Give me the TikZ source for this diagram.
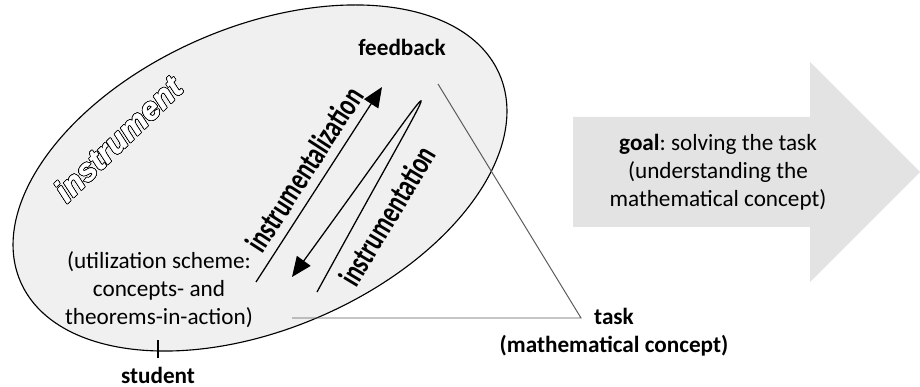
\documentclass[tikz,border=0pt]{standalone}
\usepackage{fontspec}
\setmainfont{Carlito}
\newfontfamily\outlinefont[FakeBold=1.5]{Liberation Sans}
\usepackage{contour}
\usetikzlibrary{arrows.meta,positioning}

\definecolor{instrfill}{RGB}{240,240,240}
\definecolor{goalfill}{RGB}{227,227,227}
\definecolor{linkgray}{RGB}{90,90,90}
\contourlength{0.5pt}
\frenchspacing

\begin{document}
\begin{tikzpicture}[
			txt/.style={font=\fontsize{16.5}{20}\selectfont, align=center, inner sep=0pt},
			lbl/.style={txt, font=\fontsize{16.5}{20}\selectfont\bfseries},
			genesis/.style={font=\fontsize{23}{26}\selectfont\bfseries, inner sep=1pt},
			genarrow/.style={line width=0.9pt, -{Triangle[length=0.5cm, width=0.42cm]}},
			link/.style={draw=linkgray, line width=0.7pt}
		]
		\useasboundingbox (0,0) rectangle (23,9.675);

		% Goal arrow
		\fill[goalfill] (14.325,6.75) -- (20.25,6.75) -- (20.25,8.125) -- (23,5.375)
			-- (20.25,2.625) -- (20.25,4) -- (14.325,4) -- cycle;
		\node[txt] (goal) at (17.95,5.375) {\textbf{goal}: solving the task\\(understanding the\\mathematical concept)};

		% Instrument
		\begin{scope}[shift={(6.5,5.225)}, rotate=23.4]
			\draw[fill=instrfill, line width=0.8pt] (0,0) ellipse (6.525 and 3.775);
		\end{scope}
		\node[rotate=44, font=\outlinefont\fontsize{22.5}{26}\selectfont\bfseries\itshape] (instrument) at (2.95,6.2)
			{\contour{black}{\textcolor{white}{instrument}}};
		\node[lbl] (feedback) at (10.05,8.5) {feedback};
		\node[txt] (scheme) at (3.975,2.425) {(utilization scheme:\\concepts- and\\theorems-in-action)};

		% Instrumentalization / instrumentation
		\coordinate (zbot) at (6.4,2.625);
		\coordinate (ztop) at (9.55,7.5);
		\draw[genarrow] (zbot) -- (ztop)
			node[pos=0.52, sloped, above=5pt, genesis] (instz) {\scalebox{0.72}[1]{instrumentalization}};
		\coordinate (tbot) at (7.925,2.375);
		\coordinate (ttip) at (7.3,2.75);
		\draw[genarrow] (tbot) .. controls (11.375,8.675) and (11.525,8.55) .. (ttip);
		\node[genesis, rotate=59] (instt) at (9.68,4.28) {\scalebox{0.72}[1]{instrumentation}};

		% Student and task
		\node[lbl] (student) at (3.95,0.3) {student};
		\draw[line width=1.3pt] ([yshift=0.2cm]student.north) -- ++(0,0.45);
		\node[lbl] (task) at (15.35,1.375) {task\\(mathematical concept)};
		\coordinate (fbfoot) at (10.95,7.575);
		\coordinate (corner) at (14.525,1.725);
		\coordinate (schemeend) at (7.3,1.725);
		\draw[link] (fbfoot) -- (corner) -- (schemeend);

	\end{tikzpicture}
\end{document}
